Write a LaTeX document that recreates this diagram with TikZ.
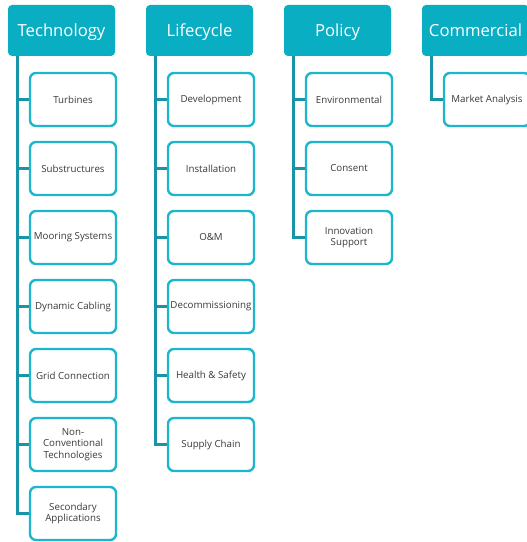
\documentclass[tikz,border=0pt]{standalone}
\usepackage{fontspec}
\setmainfont{Open Sans}
\definecolor{headc}{HTML}{0AAEC3}
\definecolor{boxc}{HTML}{1DB7CD}
\definecolor{linec}{HTML}{1894A8}
\definecolor{txtc}{HTML}{3A3A3A}
\begin{document}
\begin{tikzpicture}[x=0.75pt,y=-0.75pt,
  head/.style={fill=headc, rounded corners=3pt, minimum width=80.25pt, minimum height=38.25pt,
    inner sep=0pt, text=white, text height=10pt, text depth=1pt, font=\fontsize{12.5}{14}\selectfont},
  leaf/.style={draw=boxc, line width=1.8pt, fill=white, rounded corners=4.5pt,
    minimum width=64.5pt, minimum height=39.75pt, inner sep=1pt, align=center,
    text=txtc, font=\fontsize{7.3}{8.4}\selectfont},
  conn/.style={draw=linec, line width=2pt}]
\useasboundingbox (0,0) rectangle (526,542);

% column headers
\node[head] (tech) at (61.5,30.5) {Technology};
\node[head] (life) at (199.5,30.5) {Lifecycle};
\node[head] (pol)  at (337.5,30.5) {Policy};
\node[head] (com)  at (475.5,30.5) {Commercial};

% trunk start points under each header
\coordinate (techl) at ([xshift=7.1pt]tech.south west);
\coordinate (lifel) at ([xshift=7.5pt]life.south west);
\coordinate (poll)  at ([xshift=7.5pt]pol.south west);
\coordinate (coml)  at ([xshift=7.5pt]com.south west);

% Technology
\node[leaf] (t1) at (73,99.5)  {Turbines};
\node[leaf] (t2) at (73,168.5) {Substructures};
\node[leaf] (t3) at (73,237.5) {Mooring Systems};
\node[leaf] (t4) at (73,306.5) {Dynamic Cabling};
\node[leaf] (t5) at (73,375.5) {Grid Connection};
\node[leaf] (t6) at (73,444.5) {Non-\\Conventional\\Technologies};
\node[leaf] (t7) at (73,513.5) {Secondary\\Applications};

% Lifecycle
\node[leaf] (l1) at (211,99.5)  {Development};
\node[leaf] (l2) at (211,168.5) {Installation};
\node[leaf] (l3) at (211,237.5) {O\&M};
\node[leaf] (l4) at (211,306.5) {Decommissioning};
\node[leaf] (l5) at (211,375.5) {Health \& Safety};
\node[leaf] (l6) at (211,444.5) {Supply Chain};

% Policy
\node[leaf] (p1) at (349,99.5)  {Environmental};
\node[leaf] (p2) at (349,168.5) {Consent};
\node[leaf] (p3) at (349,237.5) {Innovation\\Support};

% Commercial
\node[leaf] (c1) at (487,99.5) {Market Analysis};

% connectors
\foreach \c in {t1,t2,t3,t4,t5,t6,t7} \draw[conn] (techl) |- (\c.west);
\foreach \c in {l1,l2,l3,l4,l5,l6} \draw[conn] (lifel) |- (\c.west);
\foreach \c in {p1,p2,p3} \draw[conn] (poll) |- (\c.west);
\draw[conn] (coml) |- (c1.west);
\end{tikzpicture}
\end{document}
